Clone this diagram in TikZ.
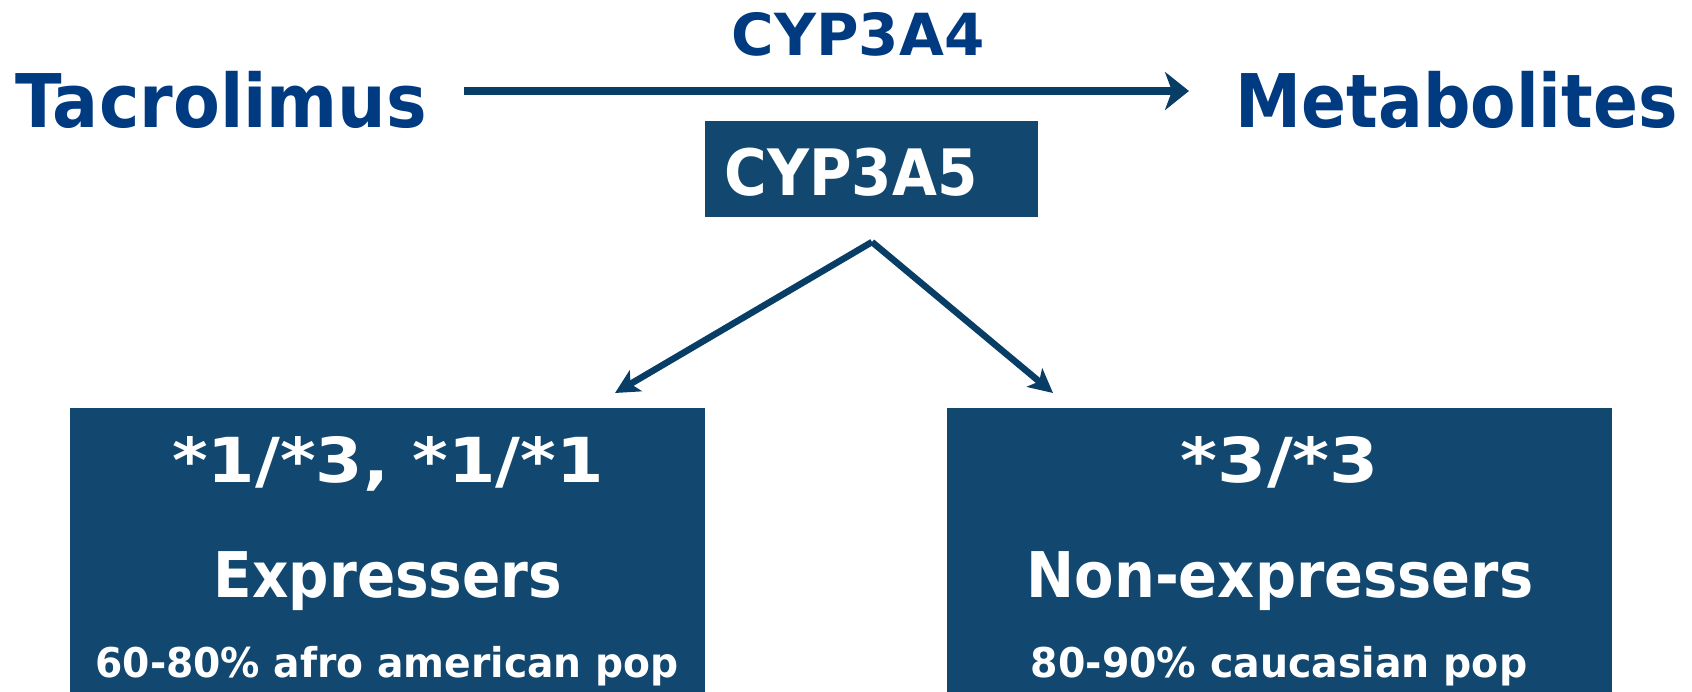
\documentclass[tikz,border=0pt]{standalone}
\usepackage{fontspec}
\setmainfont{DejaVu Sans}
\usetikzlibrary{arrows.meta}
\definecolor{tnavy}{RGB}{0,58,128}
\definecolor{boxblue}{RGB}{18,72,111}
\definecolor{arrblue}{RGB}{8,61,102}
\tikzset{
  txt/.style={inner sep=0pt, font=\bfseries},
  wtxt/.style={txt, text=white},
  ntxt/.style={txt, text=tnavy},
  blk/.style={fill=boxblue, draw=none, inner sep=0pt},
  conn/.style={draw=arrblue, line width=6.5pt},
}
\newcommand{\fs}[1]{\fontsize{#1}{#1}\selectfont}
\newcommand{\sx}[2]{\scalebox{#1}[1]{#2}}
\begin{document}
\begin{tikzpicture}[x=1pt,y=-1pt]
\useasboundingbox (0,0) rectangle (1692,691);
% top row
\node[ntxt, anchor=base west] (tac) at (15,127) {\fs{74}\sx{0.922}{Tacrolimus}};
\node[ntxt, anchor=base east] (met) at (1678,127) {\fs{74}\sx{0.896}{Metabolites}};
\node[ntxt, anchor=base] (c4) at (858,55) {\fs{58}CYP3A4};
\coordinate (a1) at (464,91);
\coordinate (a2) at (1189,91);
\draw[conn, line width=7.5pt, -{Stealth[length=24pt,width=38pt,inset=7pt]}] (a1) -- (a2);
% CYP3A5 box
\node[blk, minimum width=333pt, minimum height=96pt] (c5box) at (871.5,169) {};
\node[wtxt, anchor=base] (c5) at (851,195) {\fs{64}\sx{0.907}{CYP3A5}};
% split arrows
\coordinate (split) at (872,242);
\coordinate (ltip) at (615,393);
\coordinate (rtip) at (1053,393);
\draw[conn, -{Stealth[length=24pt,width=24pt,inset=6pt]}] (split) -- (ltip);
\draw[conn, -{Stealth[length=24pt,width=24pt,inset=6pt]}] (split) -- (rtip);
% bottom boxes
\node[blk, minimum width=635pt, minimum height=290pt, anchor=north west] (lbox) at (70,408) {};
\node[blk, minimum width=665pt, minimum height=290pt, anchor=north west] (rbox) at (947,408) {};
\node[wtxt, anchor=base] (l1) at (388,482) {\fs{62}\sx{1.10}{*1/*3, *1/*1}};
\node[wtxt, anchor=base] (l2) at (388,597) {\fs{63}\sx{0.896}{Expressers}};
\node[wtxt, anchor=base] (l3) at (387,677) {\fs{41}\sx{0.957}{60-80\% afro american pop}};
\node[wtxt, anchor=base] (r1) at (1280,482) {\fs{62}\sx{1.14}{*3/*3}};
\node[wtxt, anchor=base] (r2) at (1280,597) {\fs{63}\sx{0.912}{Non-expressers}};
\node[wtxt, anchor=base] (r3) at (1279,677) {\fs{41}\sx{0.962}{80-90\% caucasian pop}};
\end{tikzpicture}
\end{document}
